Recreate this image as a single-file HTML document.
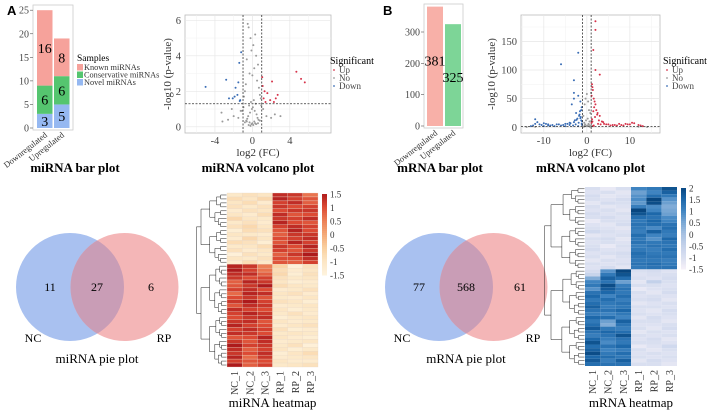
<!DOCTYPE html>
<html><head><meta charset="utf-8"><style>
html,body{margin:0;padding:0;background:#fff;}
svg{display:block;font-family:"Liberation Serif",serif;}
</style></head><body>
<svg id="fig" width="708" height="415" viewBox="0 0 708 415" xmlns="http://www.w3.org/2000/svg">
<text x="7" y="15" font-family="Liberation Sans,sans-serif" font-weight="bold" font-size="13">A</text>
<text x="383" y="15" font-family="Liberation Sans,sans-serif" font-weight="bold" font-size="13">B</text>
</svg>
<script>
// ---------- DATA ----------
const barCats = ['Downregulated','Upregulated'];
const mirNovel = [3,5];
const mirCons = [6,6];
const mirKnown = [16,8];
const mirBarTicks = [0,5,10,15,20,25];
const mrnaBarVals = [381,325];
const mrnaBarTicks = [0,100,200,300];

const mirVolX = [-5,-2.8,-2.1,-1.8,-1.6,-2.5,-1.4,-1.3,-1.5,-1.2,-1.9,-1.35,-3.3,-2.2,-1.25,
 4.7,5.2,5.6,2.1,2.5,2.7,1.3,1.6,1.2,1.1,1.9,1.4,2.3,1.05,
 -0.5,-0.4,-0.2,0.3,0.1,-0.1,0.4,-0.6,0.6,0.2,-0.3,0.0,0.5,-0.7,0.7,-0.8,0.8,-0.9,0.9,0.15,-0.15,0.35,-0.35,0.05,-0.05,0.25,-0.25,0.45,-0.45,0.55,-0.55,0.65,-0.65,
 -1.5,-2.0,-2.6,1.5,2.0,2.4,-3.2,3.0,-1.1,1.15,-0.95,0.95,0.1,-0.1,0.3,-0.3,0.2,-0.2,0.0,0.4,-0.4,0.6,-0.6,0.8,-0.8];
const mirVolY = [2.25,2.65,1.6,2.2,1.8,1.6,3.6,1.5,2.5,4.2,1.7,1.45,0.8,1.0,0.9,
 3.1,2.7,2.5,2.55,1.6,1.8,2.0,1.9,1.6,2.3,1.5,1.4,1.4,2.8,
 5.8,5.6,5.0,5.2,4.6,4.3,4.0,3.8,3.5,3.3,3.0,2.9,2.6,2.4,2.2,2.0,1.8,1.7,1.6,1.5,1.4,1.3,1.2,1.1,1.0,0.9,0.8,0.7,0.6,0.5,0.45,0.4,0.35,
 0.5,0.6,0.4,0.6,0.5,0.7,0.3,0.6,0.9,1.0,1.1,1.2,0.1,0.15,0.2,0.25,0.3,0.05,0.2,0.15,0.1,0.2,0.3,0.35,0.25];
const mrnaVolX = [-6,-2,-3,-3,-3,-3.5,-12,-2,-1.5,-1.3,-2.5,-4,-5,-7,-8,-9,-10,-11,-12.5,-13,-10.5,-9.5,-8.5,-7.5,-6.5,-5.5,-4.5,-3.8,-2.8,-1.8,-1.2,-1.6,-2.2,-1.4,-1.1,-11.5,-12,-10,-9,-6,-5,-4,-3,-2.4,-1.9,-1.7,-1.5,-1.3,-1.2,-1.1,-3.2,-2.6,-2.0,
 2,2,1.5,2,3,1,2,1.2,1.4,1.6,1.8,2.2,2.5,3,3.5,4,5,6,7,8,9,10,11,12,12.5,13,10.5,9.5,8.5,7.5,6.5,5.5,4.5,3.8,2.8,1.3,1.1,1.7,2.4,1.9,1.2,1.5,1.3,1.1,2.6,3.2,1.6,1.4,
 -0.5,-0.3,0,0.3,0.5,0.8,-0.8,0.2,-0.2,0.6,-0.6,0.4,-0.4,0.1,-0.1,0.7,-0.7,0.9,-0.9,0.5,-0.5,-14,14,-12,12];
const mrnaVolY = [110,130,82,60,50,40,14,55,45,30,25,8,6,5,4,3,2,5,3,2,4,6,3,2,5,4,6,7,12,20,35,28,15,18,10,9,6,7,5,3,2,4,9,13,8,22,16,12,6,4,3,5,2,
 185,170,135,100,92,60,40,75,65,50,45,30,25,20,10,6,5,4,3,4,6,5,7,4,3,2,8,5,3,6,4,3,5,9,12,70,55,35,22,18,14,28,10,8,6,5,3,2,
 40,50,58,45,30,25,20,15,12,10,8,6,5,3,2,1,1,2,1,4,3,0.5,0.5,0.8,1];

const sampleLabels = ['NC_1','NC_2','NC_3','RP_1','RP_2','RP_3'];
const mirHeat = [
[-1.1,-0.9,-1.0,1.3,1.2,0.6],[-0.8,-1.0,-0.7,1.4,1.1,0.9],[-1.0,-0.8,-1.2,1.1,1.3,0.8],[-0.9,-1.1,-0.9,1.2,1.0,1.1],
[-1.2,-0.9,-1.0,1.0,1.2,1.2],[-1.0,-1.2,-0.8,1.3,0.9,1.0],[-0.7,-1.0,-1.1,1.2,1.1,1.3],[-1.1,-0.9,-1.2,1.4,1.0,0.9],
[-0.9,-0.7,-1.0,1.1,1.3,1.1],[-1.3,-0.8,-0.9,0.9,1.4,1.0],[-1.0,-1.1,-1.2,0.8,1.2,1.2],[-1.2,-0.7,-1.0,1.0,1.1,1.3],
[-0.8,-0.9,-1.3,0.9,1.4,1.1],[-1.1,-1.0,-0.8,1.2,1.0,1.4],[-0.9,-1.2,-1.0,1.1,0.9,1.2],[-1.4,-0.9,-1.1,0.8,1.2,1.5],
[-1.0,-1.1,-0.9,1.0,1.0,1.3],[-1.2,-0.8,-1.1,0.9,0.8,1.1],
[1.4,1.2,0.5,-0.6,-1.4,-0.9],[1.5,1.1,0.6,-0.8,-1.2,-1.0],[1.3,1.3,0.8,-0.7,-1.3,-0.9],[1.2,1.0,1.1,-0.9,-1.1,-1.0],
[0.8,1.4,1.2,-1.0,-1.3,-1.2],[0.9,1.2,1.5,-0.8,-1.0,-1.1],[1.1,1.3,1.0,-1.2,-1.1,-0.9],[0.7,1.4,1.3,-1.0,-0.9,-1.2],
[1.0,1.2,0.9,-1.1,-1.2,-1.0],[1.2,1.5,1.1,-0.9,-1.0,-1.3],[0.9,1.3,1.2,-1.2,-1.1,-1.0],[1.3,1.1,1.0,-1.0,-1.3,-1.1],
[1.1,1.4,1.2,-1.1,-0.9,-1.2],[1.0,1.2,1.3,-1.3,-1.1,-1.0],[1.2,1.3,0.9,-1.0,-1.2,-1.1],[1.4,1.1,1.0,-1.2,-1.0,-0.9],
[1.1,1.3,1.1,-0.9,-1.3,-1.2],[1.3,1.2,1.0,-1.1,-1.0,-1.1],[0.9,1.0,1.4,-1.0,-1.2,-1.3],[1.2,0.9,1.3,-1.2,-1.1,-1.0],
[1.5,1.1,1.2,-1.1,-0.9,-1.4],[1.3,0.8,1.1,-1.0,-1.3,-1.1],[1.2,1.0,1.3,-1.3,-1.0,-0.8],[1.4,0.7,1.2,-1.2,-1.1,-1.0],
[1.1,0.9,1.0,-1.0,-1.2,-1.2],[1.5,0.8,1.1,-1.1,-1.0,-0.9]];
const mirSplit = 18;
const mrnaHeat = [
[-1.0,-1.3,-1.0,1.0,1.2,1.8],[-1.1,-1.0,-1.2,0.6,1.0,1.6],[-0.9,-1.2,-1.1,0.8,1.4,1.2],[-1.0,-1.1,-0.9,0.9,2.0,0.8],
[-1.2,-0.9,-1.0,0.7,1.9,0.6],[-1.0,-1.2,-1.1,1.1,0.9,0.4],[-1.1,-1.0,-1.2,2.0,1.0,0.5],[-0.9,-1.1,-1.0,1.8,1.5,0.6],
[-1.0,-0.9,-1.1,1.4,1.3,0.9],[-1.3,-1.0,-1.0,1.2,1.5,1.0],[-1.1,-1.2,-0.9,1.3,1.4,1.3],[-1.0,-1.1,-1.2,1.2,0.9,1.4],
[-0.8,-1.0,-1.1,1.1,1.6,1.2],[-1.2,-1.1,-1.0,1.4,1.0,1.1],[-1.0,-0.9,-1.2,1.2,0.8,1.5],[-1.1,-1.0,-1.1,1.3,1.2,1.3],
[-1.0,-1.3,-1.0,1.1,1.3,1.2],[-0.9,-1.1,-1.1,1.2,1.1,1.4],[-1.1,-1.0,-0.9,1.4,1.2,1.2],[-1.0,-1.2,-1.0,1.3,1.3,1.3],
[-1.2,-1.0,-1.1,1.2,1.2,1.1],[-1.0,-1.1,-1.0,1.3,1.4,1.2],[-1.1,-0.9,-1.2,1.2,1.3,1.3],
[-0.9,0.8,2.0,-1.0,-0.9,-1.1],[-0.6,1.2,1.8,-1.1,-1.0,-1.0],[0.4,1.6,1.4,-1.0,-1.1,-0.9],[1.0,1.3,0.6,-1.2,-0.5,-1.0],
[1.2,1.9,1.1,-1.0,-1.0,-1.1],[0.8,1.7,1.3,-1.3,-1.1,-1.0],[1.3,1.5,1.2,-1.0,-1.2,-0.9],[1.5,1.0,1.4,-1.1,-1.0,-1.1],
[1.2,1.4,1.1,-1.0,-0.9,-1.2],[1.4,1.2,1.3,-1.2,-1.1,-1.0],[1.6,1.1,1.2,-1.0,-1.0,-1.1],[1.3,1.3,1.5,-1.1,-1.2,-0.9],
[1.1,1.0,1.2,-1.0,-1.1,-1.0],[1.5,1.4,1.0,-1.2,-0.9,-1.1],[1.2,0.6,1.6,-1.0,-1.0,-1.2],[1.4,0.4,1.3,-1.1,-1.1,-1.0],
[1.7,1.2,1.1,-1.0,-1.2,-0.9],[1.3,1.5,1.4,-1.2,-1.0,-1.1],[1.1,1.3,1.8,-1.0,-1.1,-1.0],[1.5,1.1,1.3,-1.1,-0.9,-1.2],
[1.8,0.9,1.2,-1.0,-1.0,-1.1],[1.4,1.3,1.5,-1.3,-1.1,-0.8],[1.6,1.0,1.1,-1.0,-1.2,-1.0],[1.9,1.2,1.4,-1.1,-1.0,-1.1],
[1.5,1.4,1.2,-1.0,-1.1,-1.0],[1.7,1.1,1.6,-1.2,-0.9,-1.1],[1.4,1.3,1.3,-1.0,-1.0,-1.2]];
const mrnaSplit = 23;
const mirVenn = [11,27,6];
const mrnaVenn = [77,568,61];
const mirLegendTicks = [1.5,1,0.5,0,-0.5,-1,-1.5];
const mrnaLegendTicks = [2,1.5,1,0.5,0,-0.5,-1,-1.5];

// ---------- HELPERS ----------
const svg = document.getElementById('fig');
const NS = 'http://www.w3.org/2000/svg';
function el(tag, attrs, parent){
  const e = document.createElementNS(NS, tag);
  for (const k in attrs) e.setAttribute(k, attrs[k]);
  (parent||svg).appendChild(e);
  return e;
}
function txt(x,y,s,size,anchor,parent,extra){
  const t = el('text',Object.assign({x:x,y:y,'font-size':size,'text-anchor':anchor||'middle'},extra||{}),parent);
  t.textContent = s; return t;
}
function lin(d0,d1,r0,r1){return v=>r0+(v-d0)*(r1-r0)/(d1-d0);}
function hex(c){return [parseInt(c.slice(1,3),16),parseInt(c.slice(3,5),16),parseInt(c.slice(5,7),16)];}
function ramp(stops,cols){
  return v=>{
    if(v<=stops[0]) return cols[0];
    for(let i=1;i<stops.length;i++){ if(v<=stops[i]){
      const f=(v-stops[i-1])/(stops[i]-stops[i-1]); const a=hex(cols[i-1]),b=hex(cols[i]);
      return 'rgb('+a.map((x,j)=>Math.round(x+(b[j]-x)*f)).join(',')+')';}}
    return cols[cols.length-1];
  };
}

// ---------- miRNA BAR ----------
(function(){
  const g = el('g',{});
  
  
  const y = lin(0,25,128,10.2);
  el('rect',{x:33,y:5,width:40,height:125,fill:'#fff',stroke:'#ccc','stroke-width':0.8},g);
  mirBarTicks.forEach(t=>{ txt(29,y(t)+3.5,String(t),10,'end',g,{fill:'#444'}); el('line',{x1:30,x2:33,y1:y(t),y2:y(t),stroke:'#555','stroke-width':0.6},g); });
  const xs=[37,54], w=15.5;
  barCats.forEach((c,i)=>{
    const segs=[[mirNovel[i],'#95b8f1','novel'],[mirCons[i],'#55c56f','conservative'],[mirKnown[i],'#f6a29b','known']];
    let base=0;
    segs.forEach(s=>{
      const r=el('rect',{x:xs[i],y:y(base+s[0]),width:w,height:y(base)-y(base+s[0]),fill:s[1]},g);
      
      
      txt(xs[i]+w/2,(y(base)+y(base+s[0]))/2+5,String(s[0]),14,'middle',g);
      base+=s[0];
    });
    txt(xs[i]+w/2+3,136,c,8.5,'end',g,{transform:'rotate(-38 '+(xs[i]+w/2+3)+' 136)',fill:'#333'});
  });
  txt(77,61,'Samples',9.5,'start',g);
  [['Known miRNAs','#f6a29b'],['Conservative miRNAs','#55c56f'],['Novel miRNAs','#95b8f1']].forEach((e,i)=>{
    el('rect',{x:77,y:64+i*7.5,width:6,height:6.5,fill:e[1]},g);
    txt(84,70+i*7.5,e[0],8.3,'start',g,{fill:'#333'});
  });
  txt(75,172,'miRNA bar plot',13,'middle',g,{'font-weight':'bold'});
})();

// ---------- VOLCANO ----------
function volcano(name,X,Y,box,xd,yd,xticks,yticks,xminor,yminor,thrY,title,legendX,yOff){
  const g=el('g',{});
  
  
  const x=lin(xd[0],xd[1],box[0],box[2]), y=lin(yd[0],yd[1],box[3],box[1]);
  el('rect',{x:box[0],y:box[1],width:box[2]-box[0],height:box[3]-box[1],fill:'#fff',stroke:'#bbb','stroke-width':0.8},g);
  xminor.forEach(t=>el('line',{x1:x(t),x2:x(t),y1:box[1],y2:box[3],stroke:'#f2f2f2','stroke-width':0.5},g));
  yminor.forEach(t=>el('line',{y1:y(t),y2:y(t),x1:box[0],x2:box[2],stroke:'#f2f2f2','stroke-width':0.5},g));
  xticks.forEach(t=>{el('line',{x1:x(t),x2:x(t),y1:box[1],y2:box[3],stroke:'#e6e6e6','stroke-width':0.7},g);
    txt(x(t),box[3]+11,String(t),10.5,'middle',g,{fill:'#444'});});
  yticks.forEach(t=>{el('line',{y1:y(t),y2:y(t),x1:box[0],x2:box[2],stroke:'#e6e6e6','stroke-width':0.7},g);
    txt(box[0]-4,y(t)+3.5,String(t),10.5,'end',g,{fill:'#444'});});
  X.forEach((v,i)=>{
    const up=v>1&&Y[i]>thrY, dn=v<-1&&Y[i]>thrY;
    const c=el('circle',{cx:x(v),cy:y(Y[i]),r:1,fill:up?'#d6334a':dn?'#3a6db5':'#9a9a9a'},g);
    
    
  });
  [-1,1].forEach(t=>el('line',{x1:x(t),x2:x(t),y1:box[1],y2:box[3],stroke:'#333','stroke-width':0.8,'stroke-dasharray':'2,1.5'},g));
  el('line',{x1:box[0],x2:box[2],y1:y(thrY),y2:y(thrY),stroke:'#333','stroke-width':0.8,'stroke-dasharray':'2,1.5'},g);
  txt((box[0]+box[2])/2,box[3]+23,'log2 (FC)',11,'middle',g,{fill:'#333'});
  const cy=(box[1]+box[3])/2, tx=box[0]-yOff;
  txt(tx,cy,'-log10 (p-value)',11,'middle',g,{transform:'rotate(-90 '+tx+' '+cy+')',fill:'#333'});
  txt((box[0]+box[2])/2,172,title,13,'middle',g,{'font-weight':'bold'});
  txt(legendX,64,'Significant',10,'start',g);
  [['Up','#d6334a'],['No','#9a9a9a'],['Down','#3a6db5']].forEach((e,i)=>{
    el('circle',{cx:legendX+4,cy:70+i*8,r:0.9,fill:e[1]},g);
    txt(legendX+9,73+i*8,e[0],9,'start',g,{fill:'#444'});
  });
}
volcano('mirna-volcano-plot',mirVolX,mirVolY,[185,15,331,133],[-7.2,8.4],[-0.35,6.3],[-4,0,4],[0,2,4,6],[-6,-2,2,6],[1,3,5],1.3,'miRNA volcano plot',330,14);
volcano('mrna-volcano-plot',mrnaVolX,mrnaVolY,[521,15,660,133],[-15.3,17],[-10,196],[-10,0,10],[0,50,100,150],[-15,-5,5,15],[25,75,125,175],1.3,'mRNA volcano plot',663,26);

// ---------- mRNA BAR ----------
(function(){
  const g=el('g',{});
  
  
  const y=lin(0,300,126,32);
  el('rect',{x:424,y:4,width:39,height:124,fill:'#fff',stroke:'#ccc','stroke-width':0.8},g);
  mrnaBarTicks.forEach(t=>{txt(420,y(t)+3.5,String(t),10,'end',g,{fill:'#444'});el('line',{x1:421,x2:424,y1:y(t),y2:y(t),stroke:'#555','stroke-width':0.6},g);});
  const xs=[427,445],cols=['#f8b0a8','#7dd597'];
  barCats.forEach((c,i)=>{
    const r=el('rect',{x:xs[i],y:y(mrnaBarVals[i]),width:16,height:y(0)-y(mrnaBarVals[i]),fill:cols[i]},g);
    
    
    txt(xs[i]+8,(y(0)+y(mrnaBarVals[i]))/2+(i?7:-1),String(mrnaBarVals[i]),14,'middle',g);
    txt(xs[i]+11,134,c,8.5,'end',g,{transform:'rotate(-38 '+(xs[i]+11)+' 134)',fill:'#333'});
  });
  txt(440,172,'mRNA bar plot',13,'middle',g,{'font-weight':'bold'});
})();

// ---------- VENN ----------
function venn(name,vals,cx1,title){
  const g=el('g',{});
  
  
  const c1=el('circle',{cx:cx1,cy:287,r:54,fill:'#a9c1f0'},g);
  
  
  const c2=el('circle',{cx:cx1+54.5,cy:287,r:54,fill:'#f3b0b1',opacity:0.92},g);
  
  
  const clip=el('clipPath',{id:name+'-clip'},g);
  el('circle',{cx:cx1,cy:287,r:54},clip);
  el('circle',{cx:cx1+54.5,cy:287,r:54,fill:'#c99db6','clip-path':'url(#'+name+'-clip)'},g);
  txt(cx1-20,291,String(vals[0]),12,'middle',g);
  txt(cx1+27,291,String(vals[1]),12,'middle',g);
  txt(cx1+81,291,String(vals[2]),12,'middle',g);
  txt(cx1-37,342,'NC',12,'middle',g);
  txt(cx1+94,342,'RP',12,'middle',g);
  txt(cx1+27,363,title,13,'middle',g);
}
venn('mirna-venn',mirVenn,70,'miRNA pie plot');
venn('mrna-venn',mrnaVenn,439,'mRNA pie plot');

// ---------- HEATMAPS ----------
function heatmap(name,M,split,box,colf,lticks,ld,title,dendW,cellStroke){
  const g=el('g',{});
  
  
  const n=M.length, cw=(box[2]-box[0])/6, rh=(box[3]-box[1])/n;
  M.forEach((row,i)=>row.forEach((v,j)=>{
    const r=el('rect',{x:box[0]+j*cw,y:box[1]+i*rh,width:cw,height:rh,fill:colf(v),stroke:cellStroke,'stroke-width':0.3},g);
    
    
  }));
  const xR=box[0]-0.5, W=dendW;
  function tree(lo,hi,N){
    if(hi-lo===1) return {y:box[1]+(lo+0.5)*rh,x:xR};
    const mid=Math.floor((lo+hi)/2);
    const a=tree(lo,mid,N),b=tree(mid,hi,N);
    const x=xR-W*0.8*Math.pow((hi-lo-1)/(N-1),0.6)-1.5;
    el('path',{d:'M'+a.x+','+a.y+'H'+x+'V'+b.y+'H'+b.x,fill:'none',stroke:'#222','stroke-width':0.5},g);
    return {x:x,y:(a.y+b.y)/2};
  }
  const A=tree(0,split,split), B=tree(split,n,n-split), xr=xR-W;
  el('path',{d:'M'+A.x+','+A.y+'H'+xr+'V'+B.y+'H'+B.x,fill:'none',stroke:'#222','stroke-width':0.5},g);
  sampleLabels.forEach((s,j)=>{const x=box[0]+(j+0.5)*cw+3.5;
    txt(x,box[3]+4,s,10,'end',g,{transform:'rotate(-90 '+x+' '+(box[3]+4)+')',fill:'#333'});});
  const ly=lin(ld[0],ld[1],box[1]+82,box[1]+1);
  for(let k=0;k<40;k++){const v=ld[0]+(ld[1]-ld[0])*k/40;
    el('rect',{x:box[2]+4,y:ly(v+(ld[1]-ld[0])/40),width:5,height:(ly(ld[0])-ly(ld[1]))/40+0.5,fill:colf(v)},g);}
  lticks.forEach(t=>txt(box[2]+12,ly(t)+3.5,String(t),9,'start',g,{fill:'#333'}));
  txt((box[0]+box[2])/2,407,title,13,'middle',g);
}
const redf=ramp([-1.5,-1,-0.5,0,0.5,1,1.5],['#fef3dd','#fce6c4','#f9cf9f','#f4a877','#ec7f56','#dc4a34','#ad1a1c']);
const bluef=ramp([-1.5,-1,-0.5,0,0.5,1,1.5,2],['#f4f0f8','#d9dff0','#c3d1ea','#a6c1e2','#78a7d4','#3f84c1','#1d68aa','#08467f']);
heatmap('mirna-heatmap',mirHeat,mirSplit,[227,193,318,367],redf,mirLegendTicks,[-1.5,1.5],'miRNA heatmap',30,'#e8d8c8');
heatmap('mrna-heatmap',mrnaHeat,mrnaSplit,[585,187,677,366],bluef,mrnaLegendTicks,[-1.5,2],'mRNA heatmap',40,'none');
</script>
</body></html>
